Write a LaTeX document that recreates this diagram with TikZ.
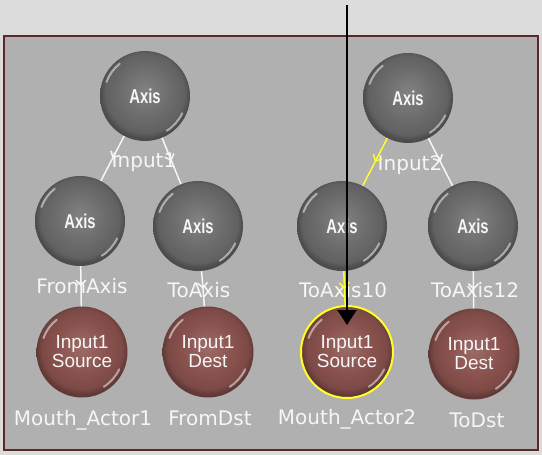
\documentclass[tikz,border=0pt]{standalone}
\usepackage{fontspec}
\setmainfont{DejaVu Sans}
\newfontfamily\ballfont[FakeStretch=0.74]{Liberation Sans}
\newfontfamily\portfont{Liberation Sans}
\usetikzlibrary{arrows.meta,decorations.markings}
\definecolor{outerbg}{RGB}{220,220,220}
\definecolor{panelbg}{RGB}{176,176,176}
\definecolor{panelrim}{RGB}{90,40,40}
\definecolor{axisgray}{RGB}{108,108,108}
\definecolor{portred}{RGB}{138,82,78}
\definecolor{labelwhite}{RGB}{246,246,246}
\definecolor{pickyellow}{RGB}{255,255,40}
\pgfdeclareradialshading{axisorb}{\pgfpoint{0bp}{3bp}}{color(0bp)=(axisgray!85!white);
  color(14bp)=(axisgray); color(22bp)=(axisgray!90!black); color(25bp)=(axisgray!70!black);
  color(50bp)=(axisgray!70!black)}
\pgfdeclareradialshading{portorb}{\pgfpoint{0bp}{3bp}}{color(0bp)=(portred!85!white);
  color(14bp)=(portred); color(22bp)=(portred!90!black); color(25bp)=(portred!70!black);
  color(50bp)=(portred!70!black)}

\begin{document}
\begin{tikzpicture}[x=1pt,y=-1pt, every node/.style={text=labelwhite},
  glint/.style={path picture={
    \draw[white,opacity=0.5,line width=2pt,line cap=round]
      ([shift={(-160:41)}]path picture bounding box.center) arc[start angle=-160,end angle=-128,radius=41];
    \draw[white,opacity=0.5,line width=2pt,line cap=round]
      ([shift={(25:41)}]path picture bounding box.center) arc[start angle=25,end angle=58,radius=41];}},
  axisball/.style={circle,minimum size=90pt,inner sep=0pt,shading=axisorb,glint,
    font=\ballfont\bfseries\fontsize{20}{20}\selectfont},
  portball/.style={circle,minimum size=91pt,inner sep=0pt,shading=portorb,glint,
    align=center,font=\portfont\fontsize{19}{19}\selectfont},
  tag/.style={anchor=base,font=\fontsize{20}{20}\selectfont},
  link/.style={draw=labelwhite,line width=1.5pt,postaction={decorate},
    decoration={markings,mark=at position 0.5 with {\arrow{Straight Barb[length=5pt,width=10pt]}}}}]
  \fill[outerbg] (0,0) rectangle (542,455);
  \filldraw[fill=panelbg,draw=panelrim,line width=1.5pt] (4,36) rectangle (538,450);
  \foreach \n/\x/\y in {ax1/145/96,ax2/408/98,fax/80/221,tax/198/226,tax10/342/226,tax12/473/226}
    \node[axisball] (\n) at (\x,\y) {Axis};
  \foreach \n/\x/\y/\w in {ma1/82/352/Source,fdst/208/352/Dest,ma2/347/352/Source,tdst/474/354/Dest}
    \node[portball] (\n) at (\x,\y) {Input1\\\w};
  \draw[pickyellow,line width=2pt] (ma2.center) circle (46);
  \node[tag] (lin1) at (144,167) {Input1};
  \node[tag] (lin2) at (410,170) {Input2};
  \node[tag] (lfax) at (82,293) {FromAxis};
  \node[tag] (ltax) at (199,297) {ToAxis};
  \node[tag] (ltax10) at (343,297) {ToAxis10};
  \node[tag] (ltax12) at (475,297) {ToAxis12};
  \node[tag] (lma1) at (83,425) {Mouth\_Actor1};
  \node[tag] (lfdst) at (210,425) {FromDst};
  \node[tag] (lma2) at (347,424) {Mouth\_Actor2};
  \node[tag] (ltdst) at (477,427) {ToDst};
  \draw[link] (ax1) -- (fax);
  \draw[link] (ax1) -- (tax);
  \draw[link] (fax) -- (ma1);
  \draw[link] (tax) -- (fdst);
  \draw[link,draw=pickyellow] (ax2) -- (tax10);
  \draw[link] (ax2) -- (tax12);
  \draw[link,draw=pickyellow] (tax10) -- (ma2);
  \draw[link] (tax12) -- (tdst);
  \coordinate (probe) at (347,5);
  \coordinate (probetip) at (347,325);
  \draw[line width=2pt,-{Triangle[length=15pt,width=19pt]}] (probe) -- (probetip);
\end{tikzpicture}
\end{document}
